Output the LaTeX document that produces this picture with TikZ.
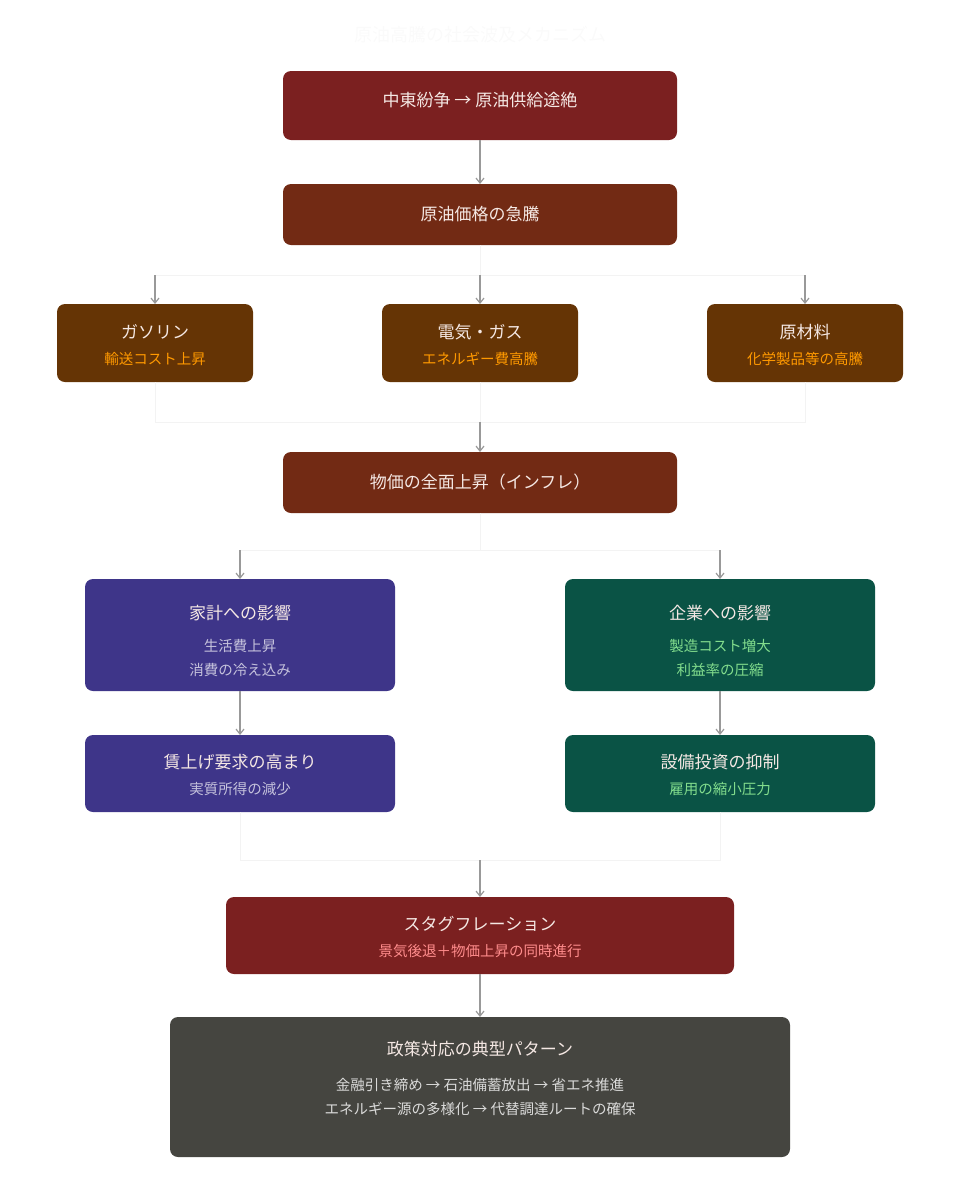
\documentclass[tikz,border=0pt]{standalone}
\usepackage{fontspec}
\setmainfont{Noto Sans CJK JP}
\usetikzlibrary{arrows.meta}
\definecolor{cA}{HTML}{7B2020}
\definecolor{cB}{HTML}{722A14}
\definecolor{cC}{HTML}{653405}
\definecolor{cP}{HTML}{3E3589}
\definecolor{cG}{HTML}{0A5345}
\definecolor{cD}{HTML}{454540}
\definecolor{faint}{HTML}{F3F3F3}
\definecolor{arr}{HTML}{999999}
\definecolor{tw}{HTML}{F5E8E4}
\begin{document}
\begin{tikzpicture}[x=1pt,y=-1pt,
 box/.style={draw=none,rounded corners=8pt,inner sep=0pt},
 ar/.style={draw=arr,line width=1.2pt,-{Straight Barb[length=5pt,width=8pt]}},
 fl/.style={draw=faint,line width=1pt},
 tt/.style={text=tw,font=\fontsize{17}{20}\selectfont},
 st/.style={font=\fontsize{14.5}{24}\selectfont,align=center}]
\useasboundingbox (0,0) rectangle (960,1200);
\node[text=faint!95!black!20!white,font=\fontsize{18}{20}\selectfont] (title) at (480,35) {原油高騰の社会波及メカニズム};
% boxes
\path[box,fill=cA] (283,71) rectangle (677,140); \node[tt] (n1) at (480,100) {中東紛争 → 原油供給途絶};
\coordinate (n1b) at (480,140);
\path[box,fill=cB] (283,184) rectangle (677,245); \node[tt] (n2) at (480,214) {原油価格の急騰};
\coordinate (n2t) at (480,184); \coordinate (n2b) at (480,245);
\foreach \x/\a/\b/\nm in {155/ガソリン/輸送コスト上昇/g, 480/電気・ガス/エネルギー費高騰/e, 805/原材料/化学製品等の高騰/m}{
 \path[box,fill=cC] (\x-98,304) rectangle (\x+98,382);
 \node[tt] (\nm t) at (\x,332) {\a};
 \node[st,text=orange!80!yellow] (\nm s) at (\x,359) {\b};
 \coordinate (\nm top) at (\x,304); \coordinate (\nm bot) at (\x,382);
 \coordinate (\nm j1) at (\x,275); \coordinate (\nm j2) at (\x,422);
}
\path[box,fill=cB] (283,452) rectangle (677,513); \node[tt] (n4) at (480,482) {物価の全面上昇（インフレ）};
\coordinate (n4t) at (480,452); \coordinate (n4b) at (480,513);
\path[box,fill=cP] (85,579) rectangle (395,691);
\node[tt] (h1) at (240,613) {家計への影響};
\node[st,text=cP!30!white] (h1s) at (240,658) {生活費上昇\\消費の冷え込み};
\path[box,fill=cG] (565,579) rectangle (875,691);
\node[tt] (c1) at (720,613) {企業への影響};
\node[st,text=cG!40!green!50!white] (c1s) at (720,658) {製造コスト増大\\利益率の圧縮};
\path[box,fill=cP] (85,735) rectangle (395,812);
\node[tt] (h2) at (240,762) {賃上げ要求の高まり};
\node[st,text=cP!30!white] (h2s) at (240,789) {実質所得の減少};
\path[box,fill=cG] (565,735) rectangle (875,812);
\node[tt] (c2) at (720,762) {設備投資の抑制};
\node[st,text=cG!40!green!50!white] (c2s) at (720,789) {雇用の縮小圧力};
\path[box,fill=cA] (226,897) rectangle (734,974);
\node[tt] (s1) at (480,924) {スタグフレーション};
\node[st,text=red!45!white] (s1s) at (480,951) {景気後退＋物価上昇の同時進行};
\path[box,fill=cD] (170,1017) rectangle (790,1157);
\node[tt] (p1) at (480,1049) {政策対応の典型パターン};
\node[st,text=white!80!cD] (p1s) at (480,1097) {金融引き締め → 石油備蓄放出 → 省エネ推進\\エネルギー源の多様化 → 代替調達ルートの確保};
\coordinate (h1t) at (240,579); \coordinate (h1b) at (240,691); \coordinate (h2t) at (240,735); \coordinate (h2b) at (240,812);
\coordinate (c1t) at (720,579); \coordinate (c1b) at (720,691); \coordinate (c2t) at (720,735); \coordinate (c2b) at (720,812);
\coordinate (s1t) at (480,897); \coordinate (s1b) at (480,974); \coordinate (p1t) at (480,1017);
% faint routing
\draw[fl] (n2b) -- (ej1) (gj1) -- (mj1);
\draw[fl] (gbot) -- (gj2) -- (mj2) -- (mbot) (ebot) -- (ej2);
\draw[fl] (n4b) -- (480,550) (240,550) -- (720,550);
\draw[fl] (h2b) -- (240,860) -- (720,860) -- (c2b);
% arrows
\draw[ar] (n1b) -- (n2t);
\draw[ar] (gj1) -- (gtop); \draw[ar] (ej1) -- (etop); \draw[ar] (mj1) -- (mtop);
\draw[ar] (ej2) -- (n4t);
\draw[ar] (240,550) -- (h1t); \draw[ar] (720,550) -- (c1t);
\draw[ar] (h1b) -- (h2t); \draw[ar] (c1b) -- (c2t);
\draw[ar] (480,860) -- (s1t);
\draw[ar] (s1b) -- (p1t);
\end{tikzpicture}
\end{document}
